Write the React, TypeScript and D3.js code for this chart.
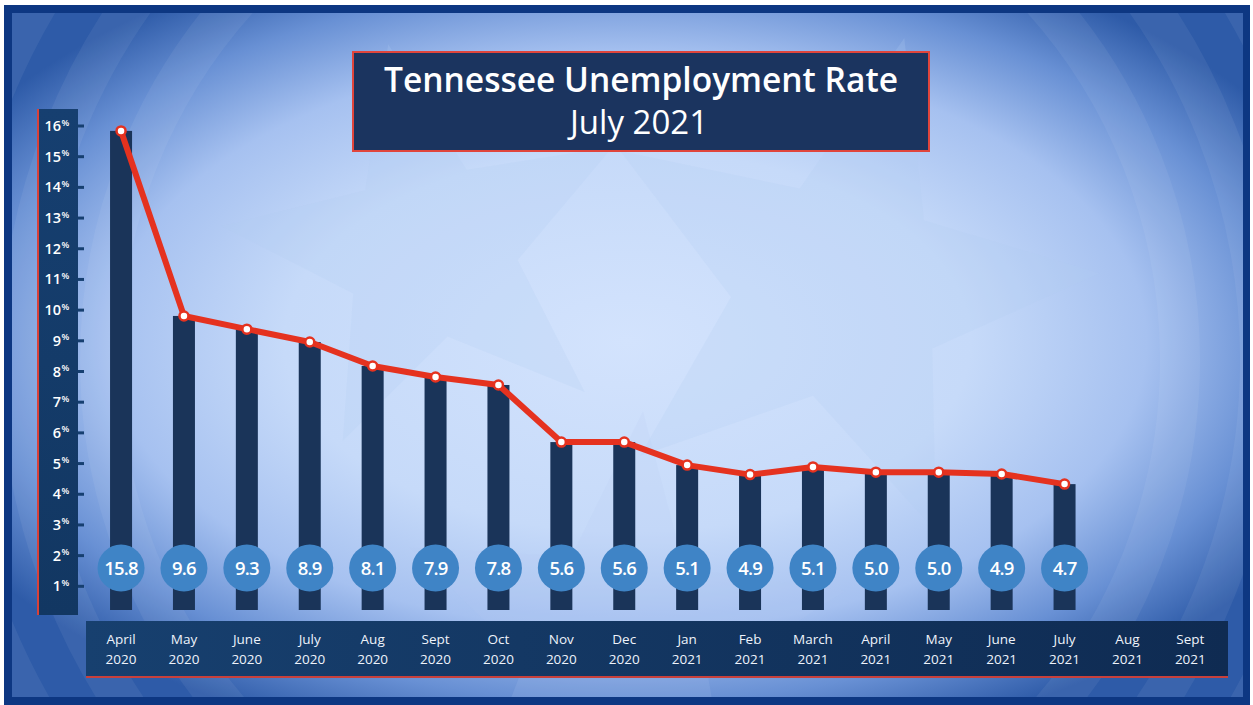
import React from 'react';
import * as d3 from 'd3';

// months shown on the bottom strip
const months = ['April', 'May', 'June', 'July', 'Aug', 'Sept', 'Oct', 'Nov', 'Dec', 'Jan', 'Feb', 'March', 'April', 'May', 'June', 'July', 'Aug', 'Sept'];
const years = ['2020', '2020', '2020', '2020', '2020', '2020', '2020', '2020', '2020', '2021', '2021', '2021', '2021', '2021', '2021', '2021', '2021', '2021'];
// reported rate in the bubbles
const rateLabels = ['15.8', '9.6', '9.3', '8.9', '8.1', '7.9', '7.8', '5.6', '5.6', '5.1', '4.9', '5.1', '5.0', '5.0', '4.9', '4.7'];
// bar / line height as drawn against the axis
const plotted = [15.84, 9.81, 9.38, 8.96, 8.18, 7.82, 7.56, 5.7, 5.7, 4.95, 4.64, 4.89, 4.72, 4.72, 4.66, 4.33];
const yTicks = [1, 2, 3, 4, 5, 6, 7, 8, 9, 10, 11, 12, 13, 14, 15, 16];

const W = 1253;
const H = 705;
const FONT = '"Open Sans", "Noto Sans", sans-serif';

const starPath = (cx: number, cy: number, r: number, rot: number) => {
  const pts: [number, number][] = [];
  for (let i = 0; i < 10; i++) {
    const rr = i % 2 === 0 ? r : r * 0.42;
    const a = rot + (i * Math.PI) / 5;
    pts.push([cx + rr * Math.sin(a), cy - rr * Math.cos(a)]);
  }
  return d3.line()(pts) + 'Z';
};

export default function App() {
  const keys = months.map((m, i) => `${m} ${years[i]}`);

  const x = d3.scaleBand<string>().domain(keys).range([89.6, 1221.8]).padding(0);
  const y = d3.scaleLinear().domain([0, 16]).range([617, 126]);

  const barW = 22;
  const barBottom = 610;
  const bubbleY = 568;

  const cx = (i: number) => (x(keys[i]) as number) + x.bandwidth() / 2;

  const line = d3
    .line<number>()
    .x((_, i) => cx(i))
    .y((d) => y(d));

  return (
    <svg width={W} height={H} style={{ display: 'block', position: 'absolute', left: 0, top: 0 }}>
      <defs>
        <radialGradient id="bg" cx="50%" cy="48%" r="62%">
          <stop offset="0%" stopColor="#d3e3fd" />
          <stop offset="45%" stopColor="#c6daf9" />
          <stop offset="68%" stopColor="#a6c1f0" />
          <stop offset="85%" stopColor="#6890d4" />
          <stop offset="100%" stopColor="#2e5ba8" />
        </radialGradient>
        <linearGradient id="strip" x1="0" x2="1" y1="0" y2="0">
          <stop offset="0%" stopColor="#17406f" />
          <stop offset="100%" stopColor="#0f2b52" />
        </linearGradient>
        <linearGradient id="axisPanel" x1="0" x2="0" y1="0" y2="1">
          <stop offset="0%" stopColor="#163f70" />
          <stop offset="100%" stopColor="#123762" />
        </linearGradient>
        <clipPath id="inner">
          <rect x={12} y={13} width={1231} height={684} />
        </clipPath>
      </defs>

      <rect x={0} y={0} width={W} height={H} fill="#ffffff" />
      <rect x={4} y={5} width={1246} height={700} fill="#0d3782" />
      <g clipPath="url(#inner)">
        <rect x={12} y={13} width={1231} height={684} fill="url(#bg)" />
        {[540, 620, 700].map((r) => (
          <circle key={r} cx={640} cy={360} r={r} fill="none" stroke="#ffffff" strokeOpacity={0.06} strokeWidth={40} />
        ))}
        <path d={starPath(430, 250, 210, -0.2)} fill="#b3cbf3" fillOpacity={0.22} />
        <path d={starPath(840, 290, 260, 0.25)} fill="#b3cbf3" fillOpacity={0.22} />
        <path d={starPath(620, 640, 230, 0.1)} fill="#b3cbf3" fillOpacity={0.15} />
      </g>

      {/* title */}
      <rect x={353} y={52} width={576} height={99} fill="#1b345f" stroke="#e0453c" strokeWidth={2} />
      <text x={641} y={92} textAnchor="middle" fill="#ffffff" fontFamily={FONT} fontSize={33.5} fontWeight={600}>
        Tennessee Unemployment Rate
      </text>
      <text x={639} y={134} textAnchor="middle" fill="#ffffff" fontFamily={FONT} fontSize={33} fontWeight={400}>
        July 2021
      </text>

      {/* y axis panel */}
      <rect x={37} y={109} width={41} height={506} fill="url(#axisPanel)" />
      <rect x={37} y={109} width={2} height={506} fill="#d9413a" />
      {yTicks.map((t) => (
        <g key={t}>
          <rect x={78} y={y(t) - 1.5} width={6} height={3} fill="#163f70" />
          <text x={61} y={y(t) + 5} textAnchor="end" fill="#ffffff" fontFamily={FONT} fontSize={14.5} fontWeight={600}>
            {t}
          </text>
          <text x={61.5} y={y(t) - 0.5} textAnchor="start" fill="#ffffff" fontFamily={FONT} fontSize={9} fontWeight={600}>
            %
          </text>
        </g>
      ))}

      {/* bars */}
      {plotted.map((v, i) => (
        <rect key={i} x={cx(i) - barW / 2} y={y(v)} width={barW} height={barBottom - y(v)} fill="#1a3459" />
      ))}

      {/* line */}
      <path d={line(plotted) as string} fill="none" stroke="#e5321f" strokeWidth={6} strokeLinejoin="round" />
      {plotted.map((v, i) => (
        <circle key={i} cx={cx(i)} cy={y(v)} r={4.5} fill="#ffffff" stroke="#e5321f" strokeWidth={2.5} />
      ))}

      {/* value bubbles */}
      {rateLabels.map((l, i) => (
        <g key={i}>
          <circle cx={cx(i)} cy={bubbleY} r={23.5} fill="#3f84c6" />
          <text
            x={cx(i)}
            y={bubbleY + 6.5}
            textAnchor="middle"
            fill="#ffffff"
            fontFamily={FONT}
            fontSize={18.5}
            fontWeight={600}
            letterSpacing={-0.8}
          >
            {l}
          </text>
        </g>
      ))}

      {/* month strip */}
      <rect x={86} y={621} width={1142} height={56} fill="url(#strip)" />
      <rect x={86} y={676} width={1142} height={2} fill="#c8403c" />
      {keys.map((k, i) => (
        <g key={k}>
          <text x={cx(i)} y={644} textAnchor="middle" fill="#eef3fb" fontFamily={FONT} fontSize={13.5}>
            {months[i]}
          </text>
          <text x={cx(i)} y={664} textAnchor="middle" fill="#eef3fb" fontFamily={FONT} fontSize={13.5}>
            {years[i]}
          </text>
        </g>
      ))}
    </svg>
  );
}
